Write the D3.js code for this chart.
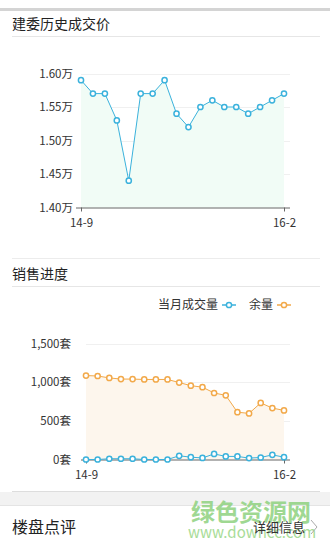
<!DOCTYPE html>
<html>
<head>
<meta charset="utf-8">
<script src="https://cdn.jsdelivr.net/npm/d3@7"></script>
<style>
  body { margin: 0; background: #fff; font-family: "Noto Sans CJK SC", "Noto Sans", sans-serif; }
  svg text { font-family: "Noto Sans CJK SC", "Noto Sans", sans-serif; }
</style>
</head>
<body>
<svg id="page" width="330" height="550"></svg>
<script>
// months shown (only first and last are labelled)
const months = ["14-9","14-10","14-11","14-12","15-1","15-2","15-3","15-4","15-5","15-6","15-7","15-8","15-9","15-10","15-11","15-12","16-1","16-2"];
const xLabels = ["14-9", "16-2"];

// price history (万)
const priceValues = [1.59, 1.57, 1.57, 1.53, 1.44, 1.57, 1.57, 1.59, 1.54, 1.52, 1.55, 1.56, 1.55, 1.55, 1.54, 1.55, 1.56, 1.57];
const priceTicks = [1.40, 1.45, 1.50, 1.55, 1.60];

// sales progress (套)
const soldValues = [0, 0, 10, 10, 10, 0, 0, 0, 48, 30, 20, 72, 40, 40, 18, 26, 60, 30];
const stockValues = [1085, 1080, 1055, 1040, 1040, 1035, 1035, 1035, 995, 955, 935, 860, 830, 612, 596, 732, 665, 635];
const salesTicks = [0, 500, 1000, 1500];
const legendNames = ["当月成交量", "余量"];

const blue = "#3bb2dc";
const orange = "#f2a94a";

const svg = d3.select("#page");

//Page chrome
svg.append("rect").attr("x", 0).attr("y", 8).attr("width", 330).attr("height", 3).attr("fill", "#d4d4d4");

function sectionTitle(text, y, lineY) {
  svg.append("text").attr("x", 12).attr("y", y).attr("font-size", 14).attr("fill", "#222").text(text);
  svg.append("line").attr("x1", 12).attr("x2", 320).attr("y1", lineY).attr("y2", lineY)
    .attr("stroke", "#e6e6e6").attr("stroke-width", 1);
}
sectionTitle("建委历史成交价", 29, 36.5);
svg.append("line").attr("x1", 12).attr("x2", 320).attr("y1", 258.5).attr("y2", 258.5).attr("stroke", "#ececec");
sectionTitle("销售进度", 279, 286.5);

//Draw one line chart with fill
function drawChart(opts) {
  const x = d3.scalePoint().domain(months).range([opts.x0, opts.x1]);
  const y = d3.scaleLinear().domain(opts.domain).range([opts.yBottom, opts.yTop]);
  const g = svg.append("g");

  // gridlines
  g.selectAll(".grid").data(opts.ticks.slice(1)).enter().append("line")
    .attr("x1", opts.x0).attr("x2", opts.x1 + 6)
    .attr("y1", d => Math.round(y(d)) + 0.5).attr("y2", d => Math.round(y(d)) + 0.5)
    .attr("stroke", "#f0f0f0");

  // area fill under the top series
  const area = d3.area().x((d, i) => x(months[i])).y0(opts.yBottom).y1(d => y(d));
  g.append("path").datum(opts.fillSeries).attr("d", area).attr("fill", opts.fill);

  // y tick labels
  g.selectAll(".ylab").data(opts.ticks).enter().append("text")
    .attr("x", opts.labelX).attr("y", d => y(d) + 4)
    .attr("text-anchor", "end").attr("font-size", 11.5).attr("fill", "#333")
    .text(opts.format);

  // x axis
  const axis = d3.axisBottom(x).tickValues(xLabels).tickSize(4).tickSizeOuter(0);
  const ax = g.append("g").attr("transform", `translate(0,${opts.yBottom})`).call(axis);
  ax.select(".domain").remove();
  ax.selectAll(".tick line").attr("stroke", "#666");
  ax.selectAll(".tick text").attr("font-size", 11.5).attr("fill", "#333").attr("dy", "1.1em")
    .attr("font-family", "'Noto Sans', sans-serif");
  g.append("line").attr("x1", opts.x0 - 5).attr("x2", opts.x1 + 6)
    .attr("y1", opts.yBottom + 0.5).attr("y2", opts.yBottom + 0.5).attr("stroke", "#666");

  // series
  opts.series.forEach(s => {
    const line = d3.line().x((d, i) => x(months[i])).y(d => y(d));
    g.append("path").datum(s.values).attr("d", line).attr("fill", "none")
      .attr("stroke", s.color).attr("stroke-width", 1);
    g.selectAll(null).data(s.values).enter().append("circle")
      .attr("cx", (d, i) => x(months[i])).attr("cy", d => y(d)).attr("r", 2.6)
      .attr("fill", "#fff").attr("stroke", s.color).attr("stroke-width", 1.5);
  });
}

drawChart({
  x0: 81, x1: 284, yTop: 73.5, yBottom: 207.5,
  domain: [1.40, 1.60], ticks: priceTicks, labelX: 73,
  format: d => d.toFixed(2) + "万",
  fillSeries: priceValues, fill: "#f1fcf6",
  series: [{ values: priceValues, color: blue }]
});

drawChart({
  x0: 86, x1: 284, yTop: 343.5, yBottom: 459.5,
  domain: [0, 1500], ticks: salesTicks, labelX: 71,
  format: d => d3.format(",")(d) + "套",
  fillSeries: stockValues, fill: "#fdf6ed",
  series: [{ values: stockValues, color: orange }, { values: soldValues, color: blue }]
});

//Legend
const legend = [
  { name: legendNames[0], color: blue, x: 218 },
  { name: legendNames[1], color: orange, x: 273 }
];
legend.forEach(l => {
  svg.append("text").attr("x", l.x).attr("y", 309).attr("text-anchor", "end")
    .attr("font-size", 12).attr("fill", "#333").text(l.name);
  svg.append("line").attr("x1", l.x + 4).attr("x2", l.x + 18).attr("y1", 305).attr("y2", 305)
    .attr("stroke", l.color).attr("stroke-width", 1.5);
  svg.append("circle").attr("cx", l.x + 11).attr("cy", 305).attr("r", 2.6)
    .attr("fill", "#fff").attr("stroke", l.color).attr("stroke-width", 1.5);
});

//Bottom section
svg.append("line").attr("x1", 12).attr("x2", 320).attr("y1", 491.5).attr("y2", 491.5).attr("stroke", "#ddd");
svg.append("rect").attr("x", 0).attr("y", 492).attr("width", 330).attr("height", 13).attr("fill", "#f2f2f2");
svg.append("line").attr("x1", 0).attr("x2", 330).attr("y1", 505.5).attr("y2", 505.5).attr("stroke", "#e4e4e4");
svg.append("text").attr("x", 12).attr("y", 533).attr("font-size", 16).attr("fill", "#222").text("楼盘点评");

// watermark
svg.append("text").attr("x", 251).attr("y", 521).attr("text-anchor", "middle")
  .attr("font-size", 24).attr("font-weight", "bold").attr("fill", "#8fd27f").attr("opacity", 0.85).text("绿色资源网");
svg.append("text").attr("x", 252).attr("y", 538).attr("text-anchor", "middle")
  .attr("font-size", 15).attr("font-family", "'Liberation Sans', sans-serif").attr("fill", "#a8dc98").text("www.downcc.com");

svg.append("text").attr("x", 305).attr("y", 532).attr("text-anchor", "end")
  .attr("font-size", 13).attr("fill", "#333").text("详细信息");
svg.append("path").attr("d", "M311,520 L317,527 L311,534").attr("fill", "none")
  .attr("stroke", "#aaa").attr("stroke-width", 1);
</script>
</body>
</html>
